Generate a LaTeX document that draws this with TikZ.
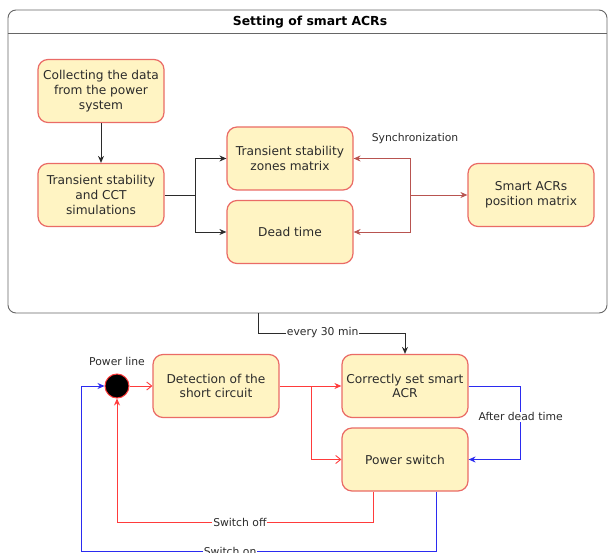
\documentclass[tikz,border=0pt]{standalone}
\usepackage{fontspec}
\setmainfont{DejaVu Sans}
\usepackage{tikz}
\usetikzlibrary{arrows.meta}
\definecolor{custom_yellow}{HTML}{FFF4C3}
\definecolor{custom_salmon}{HTML}{EA6B66}
\definecolor{custom_darkred}{HTML}{B85450}
\definecolor{custom_red}{HTML}{FF3B3B}
\definecolor{custom_blue}{HTML}{2B2BF0}
\definecolor{custom_gray}{HTML}{2B2B2B}

\begin{document}
\begin{tikzpicture}[x=1pt, y=-1pt, >={Stealth[length=7pt, width=6pt]},
    every node/.style={font=\fontsize{10.8}{13.5}\selectfont, text=custom_gray},
    state/.style={draw=custom_salmon, fill=custom_yellow, line width=1.2pt,
      rounded corners=10pt, minimum width=126pt, minimum height=63pt, align=center,
      font=\fontsize{12.2}{14.8}\selectfont},
    flow/.style={->, custom_gray, line width=0.9pt},
    sync/.style={->, custom_darkred, line width=0.9pt},
    alarm/.style={custom_red, line width=0.9pt},
    switchon/.style={custom_blue, line width=0.9pt},
    opentip/.style={-{Straight Barb[length=5pt, width=8pt]}},
    tag/.style={fill=white, inner sep=1pt}]

  \useasboundingbox (0,0) rectangle (610,553);

  % Setting of smart ACRs
  \node[draw=black!60, line width=0.9pt, rounded corners=8pt, minimum width=599pt,
    minimum height=303pt] (setting) at (307.5,161.5) {};
  \draw[black!60, line width=0.9pt] (setting.west |- 0,33) -- (setting.east |- 0,33);
  \node[font=\fontsize{12.4}{14.8}\selectfont\bfseries, text=black] (title) at (310,22) {Setting of smart ACRs};

  \node[state] (collect) at (101,91) {Collecting the data\\from the power\\system};
  \node[state] (simul) at (101,195) {Transient stability\\and CCT\\simulations};
  \node[state] (zones) at (290,158.5) {Transient stability\\zones matrix};
  \node[state] (dead) at (290,232) {Dead time};
  \node[state] (position) at (531,195) {Smart ACRs\\position matrix};

  \draw[flow] (collect) -- (simul);
  \coordinate (fork) at (195,195);
  \draw[flow] (simul.east) -- (fork) |- (zones);
  \draw[flow] (fork) |- (dead);

  \coordinate (syncfork) at (410,195);
  \draw[sync] (syncfork) -- (position);
  \draw[sync] (syncfork) |- (zones);
  \draw[sync] (syncfork) |- (dead);
  \node (synclabel) at (415,139) {Synchronization};

  % power line loop
  \node[state] (detect) at (216,386) {Detection of the\\short circuit};
  \node[state] (correct) at (405,386) {Correctly set smart\\ACR};
  \node[state] (pswitch) at (405,459.5) {Power switch};
  \node[circle, draw=custom_red, fill=black, line width=1pt, minimum size=24pt,
    inner sep=0pt] (powerline) at (117,386) {};
  \node (linelabel) at (117,361) {Power line};

  \coordinate (tap) at (258,313);
  \draw[flow] (tap) -- ++(0,20) -| (correct) node[pos=0.22, tag] {every 30 min};

  \draw[alarm, opentip] (powerline) -- (detect);
  \draw[alarm, ->] (detect) -- (correct);
  \coordinate (split) at (311,386);
  \draw[alarm, opentip] (split) |- (pswitch);

  \draw[switchon, ->] (correct.east) -- ++(52,0) |- (pswitch)
    node[pos=0.21, tag] {After dead time};

  \draw[alarm, ->] ([xshift=-32pt]pswitch.south) -- ++(0,31) -| (powerline)
    node[pos=0.26, tag] {Switch off};

  \coordinate (loopcorner) at (81,551);
  \draw[switchon, ->] ([xshift=31pt]pswitch.south) |- (loopcorner)
    node[pos=0.79, tag] {Switch on} |- (powerline);

\end{tikzpicture}
\end{document}
